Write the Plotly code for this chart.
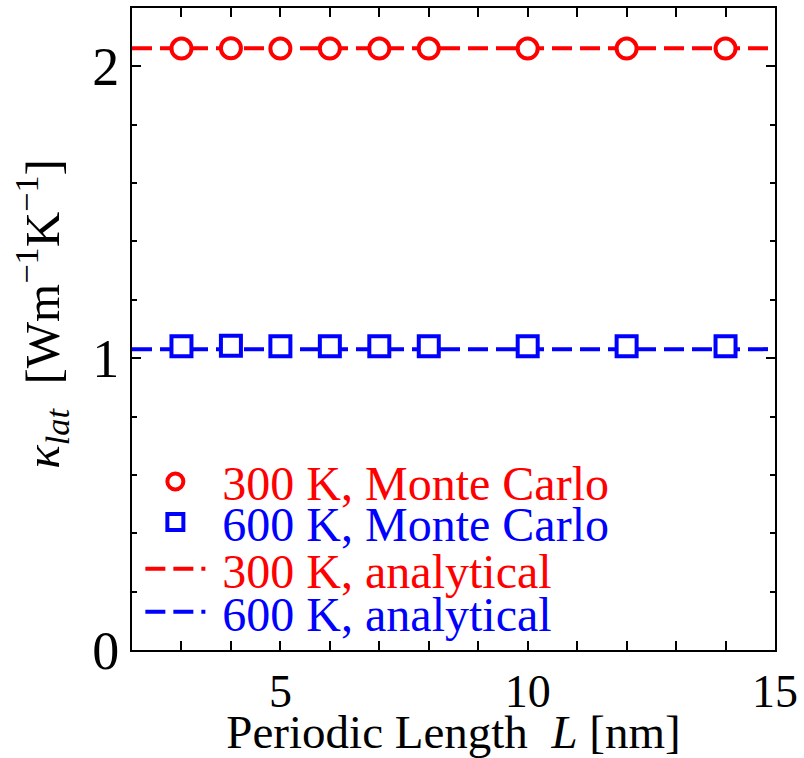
import plotly.graph_objects as go

# Data
L_nm = [3, 4, 5, 6, 7, 8, 10, 12, 14]
k_300_mc = [2.061, 2.062, 2.061, 2.061, 2.061, 2.061, 2.061, 2.061, 2.061]
k_600_mc = [1.041, 1.043, 1.041, 1.041, 1.041, 1.041, 1.041, 1.041, 1.041]
L_line = [2, 15]
k_300_an = [2.062, 2.062]
k_600_an = [1.031, 1.031]

RED = "#ff0000"
BLUE = "#0000ff"
FONT = "Liberation Serif"
NB = "\u00a0"

fig = go.Figure()

# analytical dashed lines (drawn first, below markers)
fig.add_trace(go.Scatter(x=L_line, y=k_300_an, mode="lines",
                         line=dict(color=RED, width=4, dash="20px,8px"),
                         name=NB + "300 K, analytical", legend="legend3"))
fig.add_trace(go.Scatter(x=L_line, y=k_600_an, mode="lines",
                         line=dict(color=BLUE, width=4, dash="20px,8px"),
                         name=NB + "600 K, analytical", legend="legend4"))
fig.add_trace(go.Scatter(x=L_nm, y=k_300_mc, mode="markers",
                         marker=dict(symbol="circle", size=20, color="white",
                                     line=dict(color=RED, width=4)),
                         name=NB + "300 K, Monte Carlo", legend="legend"))
fig.add_trace(go.Scatter(x=L_nm, y=k_600_mc, mode="markers",
                         marker=dict(symbol="square", size=20, color="white",
                                     line=dict(color=BLUE, width=4)),
                         name=NB + "600 K, Monte Carlo", legend="legend2"))

def leg(y, color):
    return dict(x=0.013, y=y, xanchor="left", yanchor="middle",
                bgcolor="rgba(0,0,0,0)", borderwidth=0,
                font=dict(family=FONT, size=48, color=color),
                itemwidth=60)

fig.update_layout(
    width=804, height=758,
    margin=dict(l=132, r=28, t=6, b=108),
    paper_bgcolor="white", plot_bgcolor="white",
    font=dict(family=FONT, color="black"),
    showlegend=True,
    legend=leg(0.262, RED),
    legend2=leg(0.199, BLUE),
    legend3=leg(0.126, RED),
    legend4=leg(0.059, BLUE),
    xaxis=dict(
        range=[2, 15], tick0=0, dtick=5,
        showline=True, linecolor="black", linewidth=2, mirror="ticks",
        ticks="inside", ticklen=9, tickwidth=1.5, tickcolor="black",
        minor=dict(dtick=1, ticks="inside", ticklen=9, tickwidth=1.5, tickcolor="black"),
        showgrid=False, zeroline=False,
        tickfont=dict(family=FONT, size=46, color="black"),
        title=dict(text="Periodic Length" + NB + " <i>L</i> [nm]",
                   font=dict(family=FONT, size=47, color="black"), standoff=0),
    ),
    yaxis=dict(
        range=[0, 2.2], tick0=0, dtick=1,
        showline=True, linecolor="black", linewidth=2, mirror="ticks",
        ticks="inside", ticklen=9, tickwidth=1.5, tickcolor="black",
        minor=dict(dtick=0.2, ticks="inside", ticklen=5, tickwidth=1.5, tickcolor="black"),
        showgrid=False, zeroline=False,
        tickfont=dict(family=FONT, size=54, color="black"),
        title=dict(text=""),
    ),
    annotations=[dict(
        text="<i>κ</i><sub><i>lat</i></sub>  [Wm<sup>−1</sup>K<sup>−1</sup>]",
        textangle=-90, xref="paper", yref="paper", x=0, y=0.523,
        xanchor="right", yanchor="middle", xshift=-54, showarrow=False,
        font=dict(family=FONT, size=49, color="black"),
    )],
)

fig.write_html("out.html")
